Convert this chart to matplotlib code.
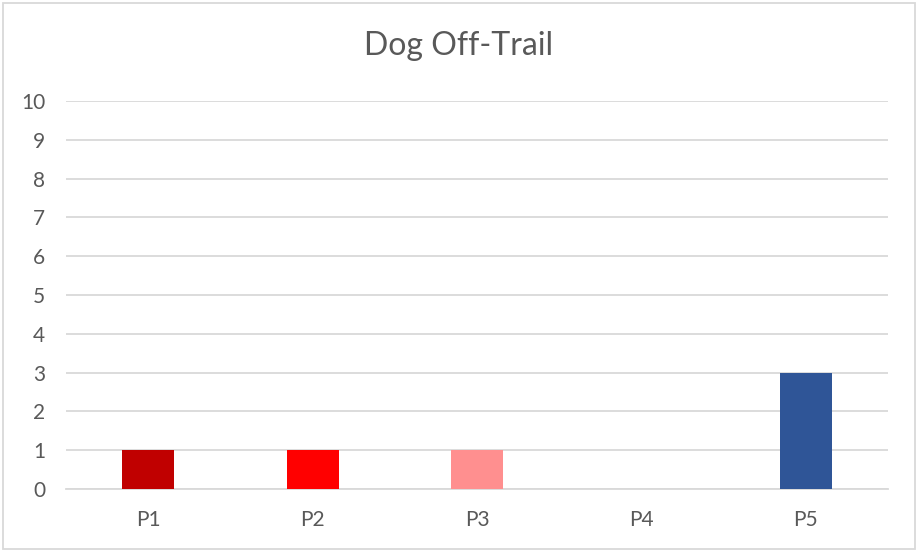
import matplotlib.pyplot as plt
from matplotlib.patches import Rectangle

plt.rcParams['font.family'] = ['Lato', 'DejaVu Sans']

categories = ['P1', 'P2', 'P3', 'P4', 'P5']
values = [1, 1, 1, 0, 3]
bar_colors = ['#C00000', '#FF0000', '#FF8F8F', '#4472C4', '#2F5597']
y_ticks = list(range(0, 11))

text_color = '#595959'
grid_color = '#D9D9D9'

fig = plt.figure(figsize=(9.17, 5.52), dpi=100)
ax = fig.add_axes([66/917, 1-489/552, (888-66)/917, (489-101)/552])

x = list(range(len(categories)))
ax.bar(x, values, width=0.316, color=bar_colors, zorder=3)

ax.set_xlim(-0.5, len(categories) - 0.5)
ax.set_ylim(0, 10)
ax.set_yticks(y_ticks)
ax.set_xticks(x)
ax.set_xticklabels(categories)

ax.yaxis.grid(True, color=grid_color, linewidth=1.3, zorder=0)
for s in ['top', 'right', 'left']:
    ax.spines[s].set_visible(False)
ax.spines['bottom'].set_color(grid_color)
ax.spines['bottom'].set_linewidth(1.3)
ax.tick_params(axis='both', length=0, labelsize=15, colors=text_color)
ax.tick_params(axis='y', pad=15)
ax.tick_params(axis='x', pad=15)

fig.text(0.5, 1-46/552, 'Dog Off-Trail', ha='center', va='center',
         fontsize=23, color=text_color)

# outer chart border
fig.patches.append(Rectangle((3/917, 3/552), 912/917, 546/552, transform=fig.transFigure,
                             fill=False, edgecolor=grid_color, linewidth=1.3))

fig.savefig('out.png', dpi=100)
